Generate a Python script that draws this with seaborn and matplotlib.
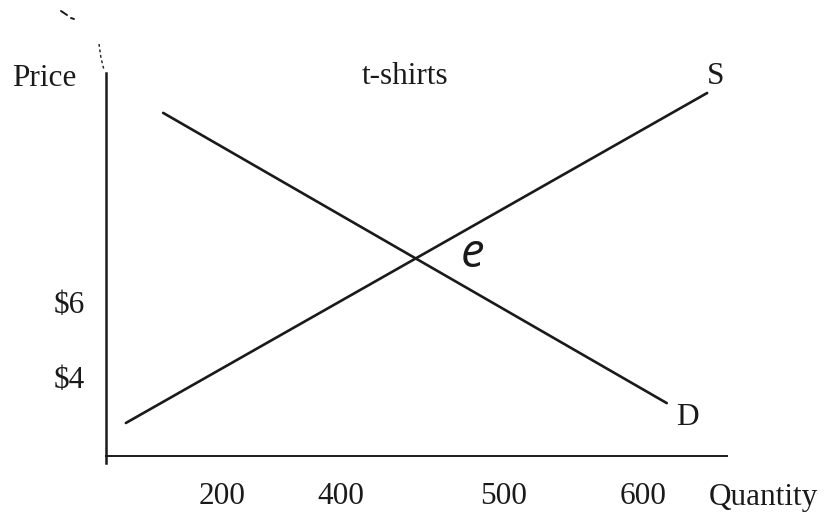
import matplotlib
matplotlib.use("Agg")
import matplotlib.pyplot as plt
import matplotlib.transforms as mtransforms
from matplotlib.lines import Line2D
import numpy as np
import pandas as pd
import seaborn as sns

# Supply and demand schedules (quantity-axis position, price in $)
supply_q = [3.2, 96.8]
supply_p = [2.88, 11.68]
demand_q = [9.2, 90.3]
demand_p = [11.15, 3.41]

# Axis labelling
price_ticks = [4, 6]
price_labels = ["$4", "$6"]
qty_pos = [18.7, 37.8, 64.1, 86.5]
qty_labels = ["200", "400", "500", "600"]

INK = "#1a1a1a"
W, H = 824, 513

sns.set_theme(style="white")
plt.rcParams["font.family"] = ["Liberation Serif", "DejaVu Serif"]

fig = plt.figure(figsize=(W / 100, H / 100), dpi=100)
ax = fig.add_axes([106 / W, 1 - 463 / H, 621 / W, 390 / H])
ax.set_xlim(0, 100)
ax.set_ylim(1.813, 12.213)

df = pd.concat([
    pd.DataFrame({"q": supply_q, "p": supply_p, "curve": "S"}),
    pd.DataFrame({"q": demand_q, "p": demand_p, "curve": "D"}),
])
sns.lineplot(data=df, x="q", y="p", units="curve", estimator=None,
             color=INK, linewidth=1.9, legend=False, ax=ax, sort=False)

# Axes drawn as a plain L-shape
for side in ("top", "right"):
    ax.spines[side].set_visible(False)
ax.spines["left"].set_color(INK)
ax.spines["left"].set_linewidth(1.8)
ax.spines["bottom"].set_color(INK)
ax.spines["bottom"].set_linewidth(1.4)
ax.spines["bottom"].set_position(("data", 2.0))
ax.set_xticks([])
ax.set_yticks([])
ax.set_xlabel("")
ax.set_ylabel("")

fs = 22.5
to_ax_x = lambda pxl: (pxl - 106) / 621

# Price tick labels
ytrans = mtransforms.blended_transform_factory(ax.transAxes, ax.transData)
for p, lab in zip(price_ticks, price_labels):
    ax.text(to_ax_x(85), p, lab, transform=ytrans, ha="right", va="center",
            fontsize=fs, color=INK)

# Quantity tick labels
xtrans = mtransforms.blended_transform_factory(ax.transData, fig.transFigure)
for q, lab in zip(qty_pos, qty_labels):
    ax.text(q, 1 - 497 / H, lab, transform=xtrans, ha="center", va="center",
            fontsize=fs, color=INK)

# Axis titles and curve names
fig.text(44 / W, 1 - 78 / H, "Price", ha="center", va="center", fontsize=fs, color=INK)
fig.text(763 / W, 1 - 497 / H, "Quantity", ha="center", va="center", fontsize=fs, color=INK)
fig.text(405 / W, 1 - 77 / H, "t-shirts", ha="center", va="center", fontsize=fs, color=INK)
ax.annotate("S", xy=(supply_q[-1], supply_p[-1]), xytext=(6, 12),
            textcoords="offset points", ha="center", va="center",
            fontsize=fs, color=INK)
ax.annotate("D", xy=(demand_q[-1], demand_p[-1]), xytext=(15, -10),
            textcoords="offset points", ha="center", va="center",
            fontsize=fs, color=INK)

# Equilibrium label next to the crossing point
sa = (supply_p[1] - supply_p[0]) / (supply_q[1] - supply_q[0])
da = (demand_p[1] - demand_p[0]) / (demand_q[1] - demand_q[0])
qe = (demand_p[0] - da * demand_q[0] - supply_p[0] + sa * supply_q[0]) / (sa - da)
pe = supply_p[0] + sa * (qe - supply_q[0])
ax.annotate("e", xy=(qe, pe), xytext=(41, 3), textcoords="offset points",
            ha="center", va="center", fontsize=34, style="italic",
            weight="normal", family=["Open Sans", "DejaVu Sans"], color=INK)

# Worn top end of the vertical axis
fig.add_artist(Line2D([99 / W, 101 / W, 104 / W], [1 - 44 / H, 1 - 58 / H, 1 - 70 / H],
                      color=INK, lw=1.0, ls=(0, (2, 2))))
fig.add_artist(Line2D([61 / W, 67 / W], [1 - 11 / H, 1 - 15 / H], color=INK, lw=1.4))
fig.add_artist(Line2D([71 / W, 74 / W], [1 - 18 / H, 1 - 19 / H], color=INK, lw=1.4))

fig.savefig("out.png", dpi=100, facecolor="white")
